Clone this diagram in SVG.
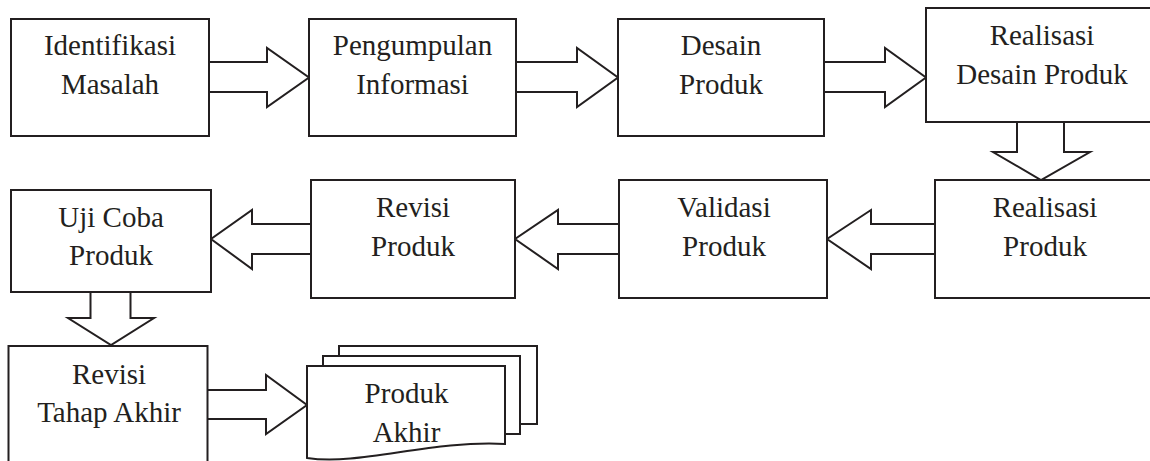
<svg xmlns="http://www.w3.org/2000/svg" width="1150" height="461" viewBox="0 0 1150 461">
<style>
.b{fill:#fff;stroke:#231f20;stroke-width:2}
.a{fill:#fff;stroke:#231f20;stroke-width:2;stroke-linejoin:miter}
.t{font-family:"Liberation Serif","Times New Roman",serif;font-size:29px;fill:#231f20;text-anchor:middle}
</style>
<rect width="1150" height="461" fill="#fff"/>
<g id="connectors">
<polygon class="a" points="209,62 267,62 267,48 309,77.5 267,107 267,92 209,92"/>
<polygon class="a" points="516,62 577,62 577,48 618,77.5 577,107 577,92 516,92"/>
<polygon class="a" points="824,62 885,62 885,48 926,77.5 885,107 885,92 824,92"/>
<polygon class="a" points="1017,122 1017,152 993,152 1041,180 1090,152 1064,152 1064,122"/>
<polygon class="a" points="935,224 871,224 871,210 827,239 871,269 871,254 935,254"/>
<polygon class="a" points="619,224 558,224 558,210 515,239 558,269 558,254 619,254"/>
<polygon class="a" points="311,224 252,224 252,210 211,239 252,269 252,254 311,254"/>
<polygon class="a" points="90.5,292 90.5,318 68,318 111,345 154,318 130.5,318 130.5,292"/>
<polygon class="a" points="207,390 266,390 266,375 307,405 266,434 266,419 207,419"/>
</g>
<g class="t">
<g id="n1"><rect class="b" x="11" y="19" width="198" height="117"/><text x="110" y="55">Identifikasi</text><text x="110" y="94">Masalah</text></g>
<g id="n2"><rect class="b" x="309" y="19" width="207" height="117"/><text x="412.5" y="55">Pengumpulan</text><text x="412.5" y="94">Informasi</text></g>
<g id="n3"><rect class="b" x="618" y="19" width="206" height="117"/><text x="721" y="55">Desain</text><text x="721" y="94">Produk</text></g>
<g id="n4"><rect class="b" x="926" y="8" width="232" height="114"/><text x="1042" y="45">Realisasi</text><text x="1042" y="84">Desain Produk</text></g>
<g id="n5"><rect class="b" x="935" y="180" width="222" height="118"/><text x="1045" y="217">Realisasi</text><text x="1045" y="256">Produk</text></g>
<g id="n6"><rect class="b" x="619" y="180" width="208" height="118"/><text x="724" y="217">Validasi</text><text x="724" y="256">Produk</text></g>
<g id="n7"><rect class="b" x="311" y="180" width="204" height="118"/><text x="413" y="217">Revisi</text><text x="413" y="256">Produk</text></g>
<g id="n8"><rect class="b" x="11" y="190" width="200" height="102"/><text x="111" y="227">Uji Coba</text><text x="111" y="265">Produk</text></g>
<g id="n9"><rect class="b" x="8.5" y="346" width="199" height="130"/><text x="109" y="384">Revisi</text><text x="109" y="422">Tahap Akhir</text></g>
<g id="n10">
<rect class="b" x="339" y="346" width="198" height="78"/>
<rect class="b" x="323" y="356" width="197" height="78"/>
<path class="b" d="M307,366 H505 V444 C430,440 360,466 307,458 Z"/>
<text x="406.5" y="403">Produk</text><text x="406.5" y="442">Akhir</text>
</g>
</g>
</svg>
